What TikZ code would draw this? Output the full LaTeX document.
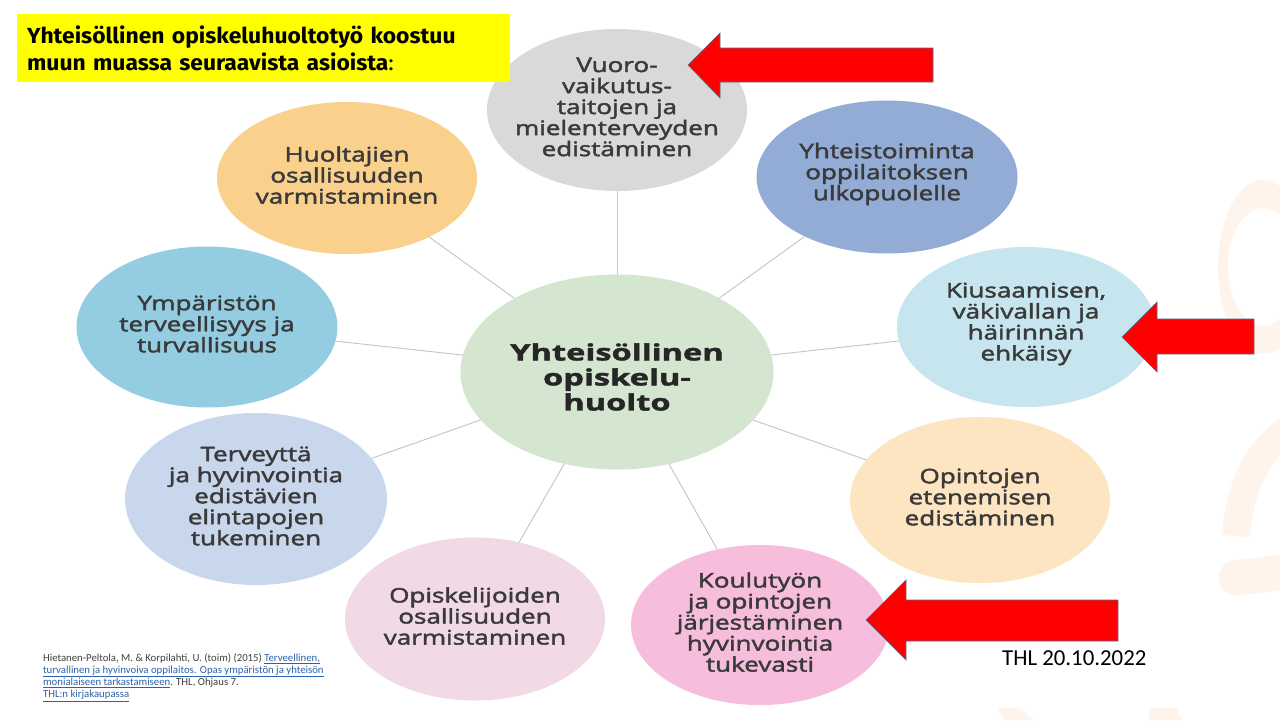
\documentclass[tikz,border=0pt]{standalone}
\usepackage{fontspec}
\usepackage{xcolor}
\usepackage{tikz}
\usetikzlibrary{shapes.geometric}
\newfontfamily\bubblefont{Open Sans}[FakeStretch=1.3,FakeBold=2.2]
\newfontfamily\hubfont{Open Sans}[FakeStretch=1.45,FakeBold=1.8]
\newfontfamily\titlefont{Fira Sans}[FakeStretch=1.05]
\newfontfamily\slidefont{Carlito}
\definecolor{ink}{HTML}{3A3A3A}
\definecolor{spokeg}{HTML}{C4C4C4}
\definecolor{hubg}{HTML}{D4E6CF}
\definecolor{greyb}{HTML}{D9D9D9}
\definecolor{orangeb}{HTML}{F9D08C}
\definecolor{blueb}{HTML}{93ACD5}
\definecolor{tealb}{HTML}{94CDE2}
\definecolor{cyanb}{HTML}{C7E5EF}
\definecolor{peachb}{HTML}{FDE5C1}
\definecolor{pinkb}{HTML}{F6BDDC}
\definecolor{roseb}{HTML}{F2D9E6}
\definecolor{lavb}{HTML}{C9D7EC}
\definecolor{yel}{HTML}{FFFF00}
\definecolor{warnred}{HTML}{FF0000}
\definecolor{warnedge}{HTML}{56698E}
\definecolor{linkb}{HTML}{2E62A8}
\definecolor{wmark}{HTML}{FEF4EC}
\newcommand{\lnk}[1]{\textcolor{linkb}{\underline{#1}}}
\tikzset{
  bub/.style={ellipse, inner sep=0pt, draw=none},
  lab/.style={text=ink, align=center, inner sep=0pt, yshift=0.15cm, font=\bubblefont\fontsize{28.5}{29.9}\selectfont},
  labh/.style={text=black!85, align=center, inner sep=0pt, yshift=-0.25cm, font=\hubfont\bfseries\fontsize{32}{35.6}\selectfont},
  spoke/.style={draw=spokeg, line width=1.3pt},
  warn/.style={fill=warnred, draw=warnedge, line width=0.8pt, line join=miter},
  wm/.style={fill=wmark, draw=none},
}

\begin{document}
\begin{tikzpicture}[x=0.05cm, y=-0.05cm]
  \useasboundingbox (0,0) rectangle (1280,720);
  \fill[white] (0,0) rectangle (1280,720);
  % faint logo in the background
  \begin{scope}
    \clip (0,0) rectangle (1280,720);
    \fill[wm, even odd rule] (1263,267) ellipse (45 and 87) (1263,267) ellipse (35 and 59);
    \draw[wmark, line width=40pt] (1236,536) .. controls (1240,485) and (1258,448) .. (1295,425);
    \draw[wmark, line width=50pt, line cap=round] (1236,578) -- (1300,570);
    \fill[wm] (997,708) -- (1020,708) -- (1034,720) -- (1005,720) -- cycle;
    \fill[wm] (1150,708) -- (1176,708) -- (1183,720) -- (1149,720) -- cycle;
  \end{scope}
  % bubbles
  \node[bub, fill=hubg, minimum width=15.65cm, minimum height=9.75cm,
        label={[labh]center:{Yhteisöllinen\\opiskelu-\\huolto}}] (hub) at (617,372) {};
  \node[bub, fill=greyb, minimum width=13cm, minimum height=8.1cm,
        label={[lab]center:{Vuoro-\\vaikutus-\\taitojen ja\\mielenterveyden\\edistäminen}}] (vuoro) at (617,110) {};
  \node[bub, fill=orangeb, minimum width=13cm, minimum height=7.6cm,
        label={[lab]center:{Huoltajien\\osallisuuden\\varmistaminen}}] (huoltaja) at (347,178) {};
  \node[bub, fill=blueb, minimum width=13.05cm, minimum height=7.65cm,
        label={[lab]center:{Yhteistoiminta\\oppilaitoksen\\ulkopuolelle}}] (yhteis) at (887,177) {};
  \node[bub, fill=tealb, minimum width=13.05cm, minimum height=8.05cm,
        label={[lab]center:{Ympäristön\\terveellisyys ja\\turvallisuus}}] (ymparisto) at (207,327) {};
  \node[bub, fill=cyanb, minimum width=12.9cm, minimum height=8cm,
        label={[lab]center:{Kiusaamisen,\\väkivallan ja\\häirinnän\\ehkäisy}}] (kiusaus) at (1026,327) {};
  \node[bub, fill=lavb, minimum width=13.1cm, minimum height=8.6cm,
        label={[lab]center:{Terveyttä\\ja hyvinvointia\\edistävien\\elintapojen\\tukeminen}}] (terveys) at (256,499) {};
  \node[bub, fill=peachb, minimum width=13cm, minimum height=8.3cm,
        label={[lab]center:{Opintojen\\etenemisen\\edistäminen}}] (opinnot) at (980,500) {};
  \node[bub, fill=roseb, minimum width=13cm, minimum height=8.15cm,
        label={[lab]center:{Opiskelijoiden\\osallisuuden\\varmistaminen}}] (opiskelija) at (475,619) {};
  \node[bub, fill=pinkb, minimum width=12.9cm, minimum height=8cm,
        label={[lab]center:{Koulutyön\\ja opintojen\\järjestäminen\\hyvinvointia\\tukevasti}}] (koulutyo) at (760,625) {};
  % spokes
  \foreach \b in {vuoro,huoltaja,yhteis,ymparisto,kiusaus,terveys,opinnot,opiskelija,koulutyo}
    \draw[spoke] (hub) -- (\b);
  % heading
  \node[fill=yel, anchor=north west, minimum width=24.65cm, minimum height=3.4cm,
        text width=23.65cm, align=left, inner xsep=0.5cm, inner ysep=0pt,
        font=\titlefont\fontsize{31}{39}\selectfont] (otsikko) at (17,14)
        {\textbf{Yhteisöllinen opiskeluhuoltotyö koostuu}\\\textbf{muun muassa seuraavista asioista}:};
  % red arrows
  \coordinate (nuoliA) at (688,65);
  \coordinate (nuoliB) at (1122,337);
  \coordinate (nuoliC) at (866,620);
  \draw[warn] (nuoliA) -- ++(32,-32) -- ++(0,15) -- ++(213,0) -- ++(0,34) -- ++(-213,0) -- ++(0,16) -- cycle;
  \draw[warn] (nuoliB) -- ++(35,-35) -- ++(0,17) -- ++(97,0) -- ++(0,35) -- ++(-97,0) -- ++(0,18) -- cycle;
  \draw[warn] (nuoliC) -- ++(40,-40) -- ++(0,20) -- ++(212,0) -- ++(0,41) -- ++(-212,0) -- ++(0,19) -- cycle;
  % source and date
  \node[anchor=north west, align=left, inner sep=0pt, text=black!75,
        font=\slidefont\fontsize{15.3}{17.5}\selectfont] (lahde) at (43,653)
        {Hietanen-Peltola, M. \& Korpilahti, U. (toim) (2015) \lnk{Terveellinen,}\\
         \lnk{turvallinen ja hyvinvoiva oppilaitos. Opas ympäristön ja yhteisön}\\
         \lnk{monialaiseen tarkastamiseen}. THL, Ohjaus 7.\\
         \lnk{THL:n kirjakaupassa}};
  \node[anchor=base west, inner sep=0pt, font=\slidefont\fontsize{32.5}{36}\selectfont] (pvm) at (1002,665) {THL 20.10.2022};
\end{tikzpicture}
\end{document}
